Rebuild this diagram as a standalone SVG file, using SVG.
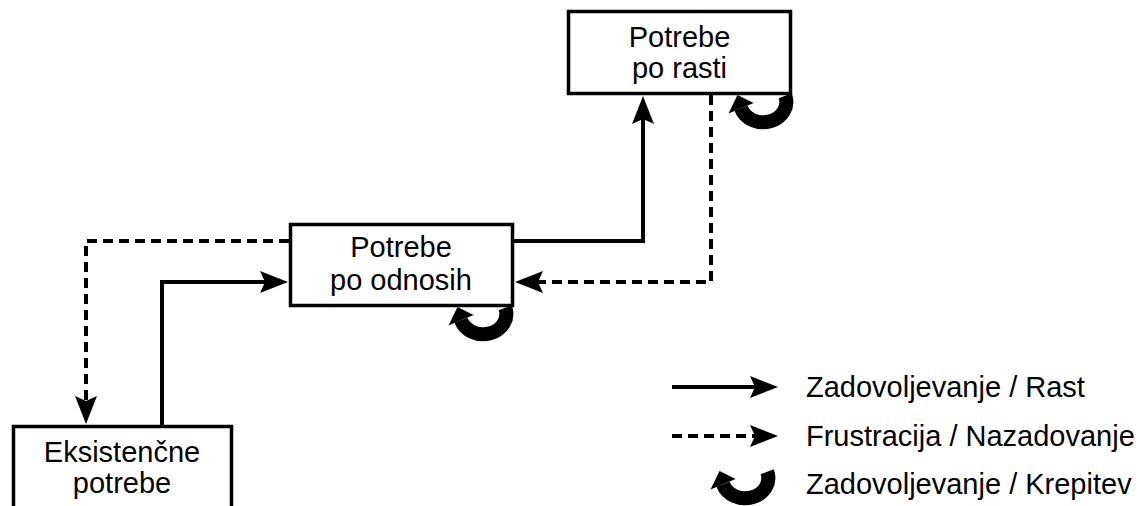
<svg xmlns="http://www.w3.org/2000/svg" xmlns:xlink="http://www.w3.org/1999/xlink" width="1147" height="506" viewBox="0 0 1147 506">
  <style>
    .box { fill: #ffffff; stroke: #000000; stroke-width: 3.5; }
    .label { font-family: "Liberation Sans", Arial, sans-serif; font-size: 29px; fill: #000000; }
    .mid { text-anchor: middle; }
    .flow { fill: none; stroke: #000000; stroke-width: 4; marker-end: url(#head); }
    .dashed { stroke-dasharray: 10 6; }
  </style>
  <defs>
    <!-- filled arrowhead with a shallow notch; tip lies 22px past the path end -->
    <marker id="head" markerUnits="userSpaceOnUse" markerWidth="30" markerHeight="24" refX="6" refY="11" orient="auto" overflow="visible">
      <path d="M0,0 L28,11 L0,22 L5,11 Z" fill="#000000"/>
    </marker>
    <!-- thick curled arrow, drawn around its own centre -->
    <g id="curl">
      <path d="M22.2,-5.2 A23,20 0 0 1 -22,7.3" fill="none" stroke="#000000" stroke-width="14"/>
      <polygon points="-34.5,12.4 -25.5,-6 -9.4,2.1" fill="#000000"/>
    </g>
  </defs>

  <rect width="1147" height="506" fill="#ffffff"/>

  <g id="connectors">
    <path class="flow" d="M162,425 V282 H266"/>
    <path class="flow" d="M513,241 H643 V118"/>
    <path class="flow dashed" d="M711,95 V282 H537"/>
    <path class="flow dashed" d="M289,241 H86 V402"/>
  </g>

  <g id="node-rast">
    <rect class="box" x="568.5" y="11.5" width="222" height="82"/>
    <text class="label mid" x="679.5" y="47">Potrebe</text>
    <text class="label mid" x="679.5" y="78">po rasti</text>
    <use xlink:href="#curl" x="763" y="101"/>
  </g>

  <g id="node-odnosi">
    <rect class="box" x="290.5" y="224.5" width="222" height="81"/>
    <text class="label mid" x="401" y="257">Potrebe</text>
    <text class="label mid" x="401" y="290">po odnosih</text>
    <use xlink:href="#curl" x="483" y="313"/>
  </g>

  <g id="node-eksistencne">
    <rect class="box" x="13.5" y="426.5" width="218" height="100"/>
    <text class="label mid" x="122" y="462">Eksistenčne</text>
    <text class="label mid" x="122" y="493">potrebe</text>
  </g>

  <g id="legend">
    <path class="flow" d="M672,387 H756"/>
    <text class="label" x="806" y="397">Zadovoljevanje / Rast</text>
    <path class="flow dashed" d="M672,436 H756"/>
    <text class="label" x="806" y="446">Frustracija / Nazadovanje</text>
    <use xlink:href="#curl" x="745" y="477"/>
    <text class="label" x="806" y="494">Zadovoljevanje / Krepitev</text>
  </g>
</svg>
